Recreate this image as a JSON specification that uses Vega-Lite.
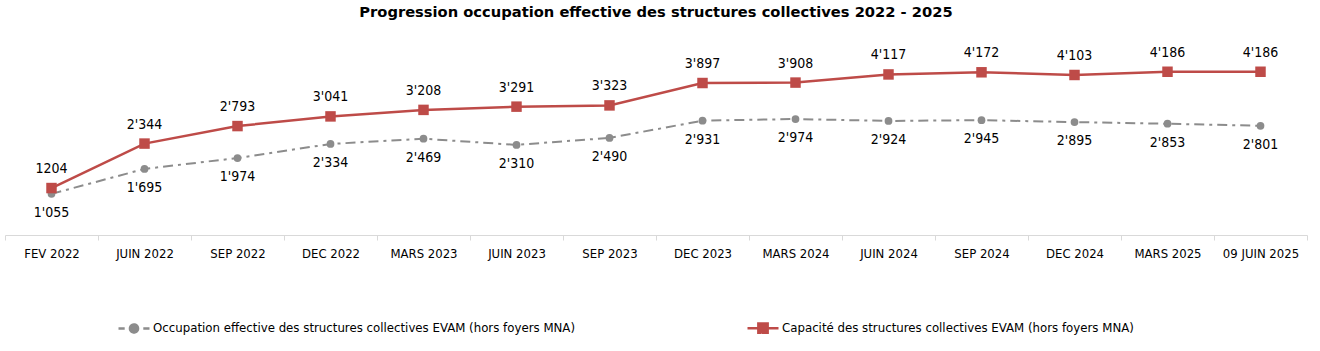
{
  "$schema": "https://vega.github.io/schema/vega-lite/v6.json",
  "autosize": {"type": "none"},
  "padding": {"left": 5, "top": 40, "right": 13, "bottom": 116},
  "width": 1302,
  "height": 195,
  "background": "white",
  "config": {"view": {"stroke": null}, "font": "DejaVu Sans"},
  "title": {
    "text": "Progression occupation effective des structures collectives 2022 - 2025",
    "font": "DejaVu Sans",
    "fontSize": 14.7,
    "fontWeight": "bold",
    "color": "#000000",
    "anchor": "middle",
    "offset": 20
  },
  "data": {
    "values": [
      {"date": "FEV 2022", "series": "Capacité des structures collectives EVAM (hors foyers MNA)", "value": 1204, "label": "1204"},
      {"date": "JUIN 2022", "series": "Capacité des structures collectives EVAM (hors foyers MNA)", "value": 2344, "label": "2'344"},
      {"date": "SEP 2022", "series": "Capacité des structures collectives EVAM (hors foyers MNA)", "value": 2793, "label": "2'793"},
      {"date": "DEC 2022", "series": "Capacité des structures collectives EVAM (hors foyers MNA)", "value": 3041, "label": "3'041"},
      {"date": "MARS 2023", "series": "Capacité des structures collectives EVAM (hors foyers MNA)", "value": 3208, "label": "3'208"},
      {"date": "JUIN 2023", "series": "Capacité des structures collectives EVAM (hors foyers MNA)", "value": 3291, "label": "3'291"},
      {"date": "SEP 2023", "series": "Capacité des structures collectives EVAM (hors foyers MNA)", "value": 3323, "label": "3'323"},
      {"date": "DEC 2023", "series": "Capacité des structures collectives EVAM (hors foyers MNA)", "value": 3897, "label": "3'897"},
      {"date": "MARS 2024", "series": "Capacité des structures collectives EVAM (hors foyers MNA)", "value": 3908, "label": "3'908"},
      {"date": "JUIN 2024", "series": "Capacité des structures collectives EVAM (hors foyers MNA)", "value": 4117, "label": "4'117"},
      {"date": "SEP 2024", "series": "Capacité des structures collectives EVAM (hors foyers MNA)", "value": 4172, "label": "4'172"},
      {"date": "DEC 2024", "series": "Capacité des structures collectives EVAM (hors foyers MNA)", "value": 4103, "label": "4'103"},
      {"date": "MARS 2025", "series": "Capacité des structures collectives EVAM (hors foyers MNA)", "value": 4186, "label": "4'186"},
      {"date": "09 JUIN 2025", "series": "Capacité des structures collectives EVAM (hors foyers MNA)", "value": 4186, "label": "4'186"},
      {"date": "FEV 2022", "series": "Occupation effective des structures collectives EVAM (hors foyers MNA)", "value": 1055, "label": "1'055"},
      {"date": "JUIN 2022", "series": "Occupation effective des structures collectives EVAM (hors foyers MNA)", "value": 1695, "label": "1'695"},
      {"date": "SEP 2022", "series": "Occupation effective des structures collectives EVAM (hors foyers MNA)", "value": 1974, "label": "1'974"},
      {"date": "DEC 2022", "series": "Occupation effective des structures collectives EVAM (hors foyers MNA)", "value": 2334, "label": "2'334"},
      {"date": "MARS 2023", "series": "Occupation effective des structures collectives EVAM (hors foyers MNA)", "value": 2469, "label": "2'469"},
      {"date": "JUIN 2023", "series": "Occupation effective des structures collectives EVAM (hors foyers MNA)", "value": 2310, "label": "2'310"},
      {"date": "SEP 2023", "series": "Occupation effective des structures collectives EVAM (hors foyers MNA)", "value": 2490, "label": "2'490"},
      {"date": "DEC 2023", "series": "Occupation effective des structures collectives EVAM (hors foyers MNA)", "value": 2931, "label": "2'931"},
      {"date": "MARS 2024", "series": "Occupation effective des structures collectives EVAM (hors foyers MNA)", "value": 2974, "label": "2'974"},
      {"date": "JUIN 2024", "series": "Occupation effective des structures collectives EVAM (hors foyers MNA)", "value": 2924, "label": "2'924"},
      {"date": "SEP 2024", "series": "Occupation effective des structures collectives EVAM (hors foyers MNA)", "value": 2945, "label": "2'945"},
      {"date": "DEC 2024", "series": "Occupation effective des structures collectives EVAM (hors foyers MNA)", "value": 2895, "label": "2'895"},
      {"date": "MARS 2025", "series": "Occupation effective des structures collectives EVAM (hors foyers MNA)", "value": 2853, "label": "2'853"},
      {"date": "09 JUIN 2025", "series": "Occupation effective des structures collectives EVAM (hors foyers MNA)", "value": 2801, "label": "2'801"}
    ]
  },
  "encoding": {
    "x": {
      "field": "date",
      "type": "nominal",
      "sort": null,
      "scale": {"paddingInner": 0, "paddingOuter": 0},
      "axis": {
        "title": null,
        "labelAngle": 0,
        "labelFont": "DejaVu Sans Condensed",
        "labelFontSize": 13,
        "labelColor": "#000000",
        "labelPadding": 7,
        "tickBand": "extent",
        "tickSize": 5,
        "tickColor": "#D9D9D9",
        "domainColor": "#D9D9D9",
        "domainWidth": 1,
        "grid": false
      }
    },
    "y": {
      "field": "value",
      "type": "quantitative",
      "scale": {"domain": [0, 5000], "nice": false},
      "axis": null
    }
  },
  "layer": [
    {
      "transform": [{"filter": "datum.series === 'Occupation effective des structures collectives EVAM (hors foyers MNA)'"}],
      "mark": {"type": "line", "strokeWidth": 2, "strokeDash": [10, 5, 3, 5]},
      "encoding": {
        "color": {
          "field": "series",
          "type": "nominal",
          "scale": {
            "domain": ["Occupation effective des structures collectives EVAM (hors foyers MNA)", "Capacité des structures collectives EVAM (hors foyers MNA)"],
            "range": ["#8C8C8C", "#BE4B48"]
          },
          "legend": {
            "title": null,
            "orient": "none",
            "direction": "horizontal",
            "columns": 2,
            "legendX": 112,
            "legendY": 271,
            "labelFont": "DejaVu Sans Condensed",
            "labelFontSize": 13.1,
            "labelColor": "#000000",
            "labelLimit": 700,
            "labelOffset": 2,
            "columnPadding": 166,
            "symbolSize": 961,
            "symbolStrokeWidth": 2.5,
            "encode": {
              "symbols": {
                "update": {
                  "shape": [
                    {"test": "datum.value === 'Capacité des structures collectives EVAM (hors foyers MNA)'", "value": "M-1,0H1M-0.3,-0.3H0.3V0.3H-0.3Z"},
                    {"value": "M-1,0H-0.6M0.6,0H1M-0.26,0A0.26,0.26 0 1,1 0.26,0A0.26,0.26 0 1,1 -0.26,0Z"}
                  ],
                  "fill": {"scale": "color", "field": "value"},
                  "strokeDash": {"value": [1, 0]}
                }
              }
            }
          }
        }
      }
    },
    {
      "transform": [{"filter": "datum.series === 'Capacité des structures collectives EVAM (hors foyers MNA)'"}],
      "mark": {"type": "line", "strokeWidth": 2.5},
      "encoding": {
        "color": {"field": "series", "type": "nominal"}
      }
    },
    {
      "transform": [{"filter": "datum.series === 'Occupation effective des structures collectives EVAM (hors foyers MNA)'"}],
      "mark": {"type": "point", "shape": "circle", "filled": true, "size": 60, "color": "#8C8C8C", "opacity": 1}
    },
    {
      "transform": [{"filter": "datum.series === 'Capacité des structures collectives EVAM (hors foyers MNA)'"}],
      "mark": {"type": "point", "shape": "square", "filled": true, "size": 110, "color": "#BE4B48", "opacity": 1}
    },
    {
      "transform": [{"filter": "datum.series === 'Capacité des structures collectives EVAM (hors foyers MNA)'"}],
      "mark": {"type": "text", "dy": -19, "font": "DejaVu Sans Condensed", "fontSize": 14, "color": "#000000"},
      "encoding": {"text": {"field": "label", "type": "nominal"}}
    },
    {
      "transform": [{"filter": "datum.series === 'Occupation effective des structures collectives EVAM (hors foyers MNA)'"}],
      "mark": {"type": "text", "dy": 19, "font": "DejaVu Sans Condensed", "fontSize": 14, "color": "#000000"},
      "encoding": {"text": {"field": "label", "type": "nominal"}}
    }
  ]
}
